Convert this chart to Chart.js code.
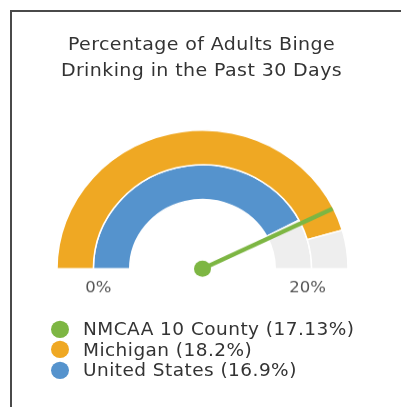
<!DOCTYPE html>
<html>
<head>
<meta charset="utf-8">
<script src="https://cdn.jsdelivr.net/npm/chart.js@4/dist/chart.umd.min.js"></script>
<style>
  html, body { margin: 0; padding: 0; background: #fff; }
  body { width: 401px; height: 407px; overflow: hidden; position: relative; font-family: "DejaVu Sans", sans-serif; }
  #frame { position: absolute; left: 10px; top: 10px; width: 400px; height: 400px;
           border-left: 2px solid #4a4a4a; border-top: 2px solid #4a4a4a; }
  /* everything is laid out in a slightly taller box, then pressed down */
  #stage { position: absolute; left: 0; top: 0; width: 401px; height: 428px;
           transform: scaleY(0.952); transform-origin: 0 0; }
  #title { position: absolute; left: 0; width: 403px; top: 33px; text-align: center;
           font-size: 19px; line-height: 27px; letter-spacing: 0.4px; color: #333; }
  #gauge { position: absolute; left: 0; top: 100px; width: 401px; height: 210px; }
  #legend { position: absolute; left: 51px; top: 335px; color: #333;
            font-size: 18.5px; letter-spacing: 0.45px; }
  #legend .row { display: flex; align-items: center; height: 21.5px; line-height: 21.5px; white-space: nowrap; }
  #legend .dot { width: 18px; height: 18px; border-radius: 50%; margin-right: 14px; flex: none; }
</style>
</head>
<body>
<div id="frame"></div>
<div id="stage">
  <div id="title"></div>
  <div id="gauge"><canvas id="chart"></canvas></div>
  <div id="legend"></div>
</div>
<script>
const titleLines = ["Percentage of Adults Binge", "Drinking in the Past 30 Days"];
const gaugeMin = 0;
const gaugeMax = 20;
const tickLabels = ["0%", "20%"];

// needle series + the two ring series (outer ring first)
const needleName = "NMCAA 10 County";
const needleValue = 17.13;
const ringNames = ["Michigan", "United States"];
const ringValues = [18.2, 16.9];

const green = "#7db643";
const ringColors = ["#efa823", "#5593cd"];
const trackColor = "#eeeeee";

document.getElementById("title").innerHTML = titleLines.join("<br>");

// legend rows
const legendItems = [[needleName, needleValue, green]]
  .concat(ringNames.map((n, i) => [n, ringValues[i], ringColors[i]]));
document.getElementById("legend").innerHTML = legendItems.map(it =>
  `<div class="row"><span class="dot" style="background:${it[2]}"></span>${it[0]} (${it[1]}%)</div>`
).join("");

const needle = {
  id: "needle",
  afterDatasetsDraw(chart) {
    const ctx = chart.ctx;
    const outer = chart.getDatasetMeta(0).data[0];
    const inner = chart.getDatasetMeta(1).data[0];
    const cx = outer.x, cy = outer.y;
    const frac = (needleValue - gaugeMin) / (gaugeMax - gaugeMin);
    const a = Math.PI + frac * Math.PI;
    const len = outer.outerRadius - 1;

    ctx.save();
    ctx.strokeStyle = green;
    ctx.fillStyle = green;
    ctx.lineWidth = 4.5;
    ctx.beginPath();
    ctx.moveTo(cx, cy);
    ctx.lineTo(cx + Math.cos(a) * len, cy + Math.sin(a) * len);
    ctx.stroke();
    ctx.beginPath();
    ctx.arc(cx, cy, 8.5, 0, Math.PI * 2);
    ctx.fill();

    // min / max labels under the band
    const mid = (inner.innerRadius + outer.outerRadius) / 2 - 5;
    ctx.fillStyle = "#555";
    ctx.font = '16.5px "DejaVu Sans"';
    ctx.textAlign = "center";
    ctx.textBaseline = "middle";
    ctx.fillText(tickLabels[0], cx - mid, cy + 20);
    ctx.fillText(tickLabels[1], cx + mid + 1, cy + 20);
    ctx.restore();
  }
};

new Chart(document.getElementById("chart"), {
  type: "doughnut",
  data: {
    labels: ["value", "rest"],
    datasets: ringValues.map((v, i) => ({
      label: ringNames[i],
      data: [v - gaugeMin, gaugeMax - v],
      backgroundColor: [ringColors[i], trackColor],
      borderColor: "#fff",
      borderWidth: 1.5
    }))
  },
  options: {
    responsive: true,
    maintainAspectRatio: false,
    animation: false,
    events: [],
    rotation: -90,
    circumference: 180,
    cutout: "50%",
    layout: { padding: { left: 56, right: 52, top: 36, bottom: 27 } },
    plugins: { legend: { display: false }, tooltip: { enabled: false }, title: { display: false } }
  },
  plugins: [needle]
});
</script>
</body>
</html>
